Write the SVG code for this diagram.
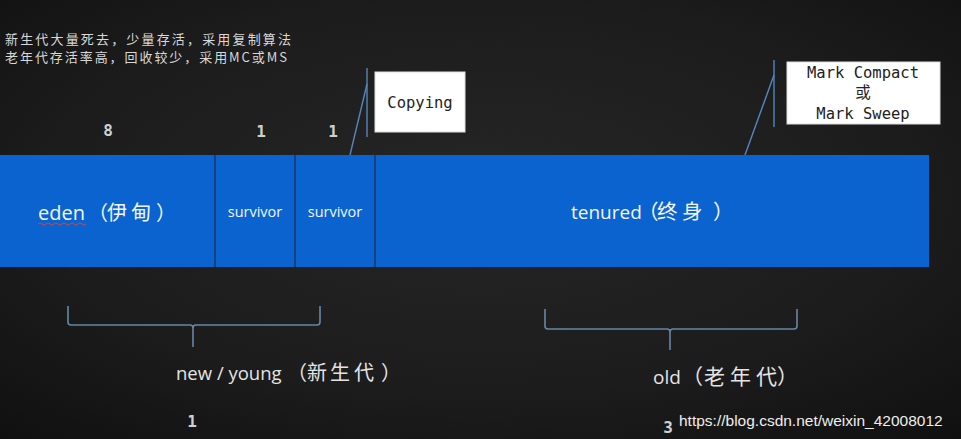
<svg xmlns="http://www.w3.org/2000/svg" width="961" height="439" viewBox="0 0 961 439">
<defs>
<radialGradient id="bg" cx="0.5" cy="0.45" r="0.75">
<stop offset="0" stop-color="#262626"/>
<stop offset="0.6" stop-color="#1c1c1c"/>
<stop offset="1" stop-color="#101010"/>
</radialGradient>
<style>
.cn{font-family:"Noto Sans CJK SC","Noto Sans",sans-serif;fill:#d8d8d8}
.lbl{font-family:"Open Sans","Noto Sans CJK SC",sans-serif;fill:#f2f6fc}
.gray{font-family:"Open Sans","Noto Sans CJK SC",sans-serif;fill:#e4e4e4}
.zh{font-family:"Noto Sans CJK SC",sans-serif}
.num{font-family:"DejaVu Sans Mono",monospace;font-weight:bold;fill:#d0d0d0;font-size:16px}
.mono{font-family:"DejaVu Sans Mono","Noto Sans CJK SC",monospace;fill:#222;font-size:15.5px}
.seg{fill:#0b63cf}
.div{stroke:#173a6c;stroke-width:1.6}
.call{stroke:#5585bd;stroke-width:1.4;fill:none}
.brace{stroke:#6687a8;stroke-width:1.6;fill:none}
.box{fill:#ffffff;stroke:#dddddd;stroke-width:1}
</style>
</defs>
<rect width="961" height="439" fill="url(#bg)"/>

<g id="notes">
<text class="cn" x="5" y="44" font-size="13" textLength="286" lengthAdjust="spacing">新生代大量死去，少量存活，采用复制算法</text>
<text class="cn" x="5" y="62" font-size="13" textLength="282" lengthAdjust="spacing">老年代存活率高，回收较少，采用MC或MS</text>
</g>

<g id="ratios">
<text class="num" x="108" y="136" text-anchor="middle">8</text>
<text class="num" x="261" y="137" text-anchor="middle">1</text>
<text class="num" x="333" y="137" text-anchor="middle">1</text>
</g>

<g id="eden">
<rect class="seg" x="0" y="155" width="215" height="112"/>
<text class="lbl" x="38" y="220" font-size="20">eden<tspan class="zh" x="88 107 131 156" font-size="20">（伊甸）</tspan></text>
<path d="M38 224 q2 -2 4 0 t4 0 t4 0 t4 0 t4 0 t4 0 t4 0 t4 0 t4 0 t4 0 t4 0 t4 0" stroke="#e04040" stroke-width="1" fill="none"/>
</g>
<g id="survivor1">
<rect class="seg" x="215" y="155" width="80" height="112"/>
<text class="lbl" x="255" y="217" font-size="14.5" text-anchor="middle">survivor</text>
</g>
<g id="survivor2">
<rect class="seg" x="295" y="155" width="80" height="112"/>
<text class="lbl" x="335" y="217" font-size="14.5" text-anchor="middle">survivor</text>
</g>
<g id="tenured">
<rect class="seg" x="375" y="155" width="554" height="112"/>
<text class="lbl" x="571" y="219" font-size="19">tenured<tspan class="zh" x="638 657 682 713" font-size="20.5">（终身）</tspan></text>
</g>
<g id="dividers">
<line class="div" x1="215" y1="155" x2="215" y2="267"/>
<line class="div" x1="295" y1="155" x2="295" y2="267"/>
<line class="div" x1="375" y1="155" x2="375" y2="267"/>
</g>

<g id="copying">
<rect class="box" x="375" y="72" width="90" height="60"/>
<text class="mono" x="420" y="108" text-anchor="middle" font-size="16">Copying</text>
</g>
<g id="markbox">
<rect class="box" x="787" y="62" width="153" height="62"/>
<text class="mono" x="863" y="78" text-anchor="middle">Mark Compact</text>
<text class="mono" x="863" y="98" text-anchor="middle">或</text>
<text class="mono" x="863" y="119" text-anchor="middle">Mark Sweep</text>
</g>

<g id="connectors">
<line class="call" x1="367" y1="68" x2="367" y2="137"/>
<line class="call" x1="367" y1="84" x2="350" y2="155"/>
<line class="call" x1="774" y1="60" x2="774" y2="127"/>
<line class="call" x1="774" y1="75" x2="745" y2="155"/>
<path class="brace" d="M68 306 V322 q0 3 3 3 H190 q3 0 3 3 V347 M193 328 q0 -3 3 -3 H317 q3 0 3 -3 V306"/>
<path class="brace" d="M545 309 V326 q0 3 3 3 H667 q3 0 3 3 V350 M670 332 q0 -3 3 -3 H794 q3 0 3 -3 V309"/>
</g>

<g id="young">
<text class="gray" x="176" y="380" font-size="18.5">new / young<tspan class="zh" x="287 307 330 354 381" font-size="20">（新生代）</tspan></text>
<text class="num" x="192" y="427" text-anchor="middle" font-weight="normal">1</text>
</g>
<g id="old">
<text class="gray" x="653" y="384" font-size="19">old<tspan class="zh" x="682 704 730 756 777" font-size="21">（老年代）</tspan></text>
<text class="num" x="668" y="433" text-anchor="middle">3</text>
</g>
<text x="679" y="426" font-family="Liberation Sans,sans-serif" font-size="15.5" fill="#eeeeee">https://blog.csdn.net/weixin_42008012</text>
</svg>
